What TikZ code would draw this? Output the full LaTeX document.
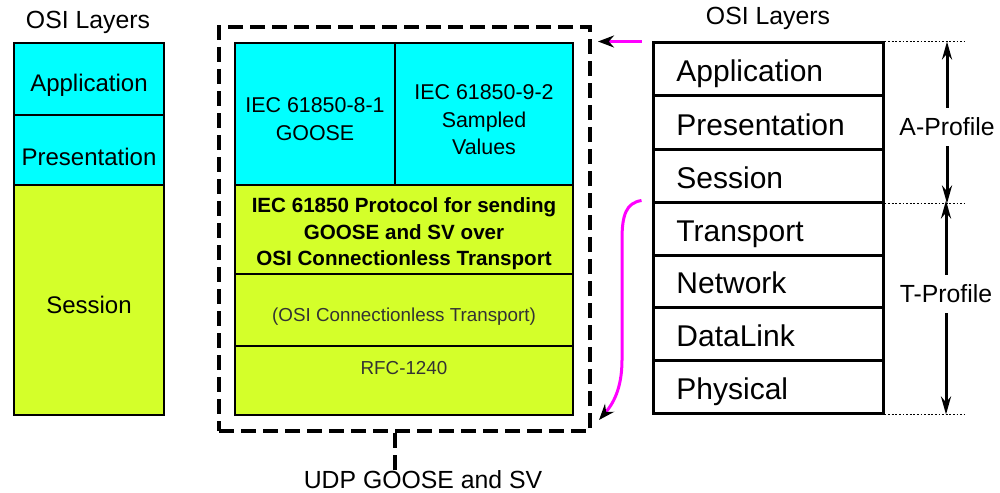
\documentclass[tikz,border=0pt]{standalone}
\usepackage{fontspec}
\setmainfont{Liberation Sans}
\usetikzlibrary{fit,arrows.meta,calc}
\definecolor{cy}{RGB}{0,255,255}
\definecolor{yg}{RGB}{212,255,42}
\definecolor{mag}{RGB}{255,0,255}
\begin{document}
\begin{tikzpicture}[x=0.5pt,y=-0.5pt,
  lcell/.style={inner sep=0pt, outer sep=0pt, draw, line width=1pt, minimum width=75pt},
  lfont/.style={inner sep=0pt, font=\fontsize{12}{14}\selectfont},
  ccell/.style={inner sep=0pt, outer sep=0pt, draw, line width=1pt},
  cfont/.style={inner sep=0pt, align=center, font=\fontsize{10.7}{13.75}\selectfont},
  pfont/.style={inner sep=0pt, align=center, font=\bfseries\fontsize{10.3}{13.25}\selectfont},
  sfont/.style={inner sep=0pt, text=black!80, font=\fontsize{9.4}{11}\selectfont},
  rcell/.style={inner sep=0pt, draw, line width=1.5pt},
  rtext/.style={anchor=base west, inner sep=0pt, font=\fontsize{15}{18}\selectfont},
  ttl/.style={inner sep=0pt, font=\fontsize{12.4}{15}\selectfont},
  prof/.style={inner sep=0pt, minimum height=19pt, font=\fontsize{12.4}{15}\selectfont},
  parrow/.style={line width=1.5pt, -{Stealth[length=9pt,width=5pt]}},
  dotln/.style={line width=0.9pt, dash pattern=on 0.9pt off 0.9pt},
  marrow/.style={mag, line width=1.5pt, -{Stealth[length=8pt,width=6pt,color=black]}},
  dbox/.style={inner sep=0pt, draw, line width=2pt, dash pattern=on 7.5pt off 3.5pt}
]
\useasboundingbox (0,0) rectangle (1000,492);

% left stack
\node[ttl] (ltitle) at (88,22) {OSI Layers};
\node[lcell, fill=cy, minimum height=36pt, label={[lfont, yshift=-3pt]center:Application}] (la) at (89,79) {};
\node[lcell, fill=cy, minimum height=35pt, label={[lfont, yshift=-3.5pt]center:Presentation}] (lp) at (89,150) {};
\node[lcell, fill=yg, minimum height=115pt, label={[lfont, yshift=-2.5pt]center:Session}] (ls) at (89,300) {};

% dashed UDP box
\node[dbox, fit={(219,27) (590,431)}] (db) {};

% inner stack
\node[ccell, fill=cy, minimum width=80pt, minimum height=71pt,
  label={[cfont, yshift=-2.5pt]center:IEC 61850-8-1\\GOOSE}] (g) at (315,114) {};
\node[ccell, fill=cy, minimum width=89pt, minimum height=71pt,
  label={[cfont, yshift=-3pt]center:IEC 61850-9-2\\Sampled\\Values}] (sv) at (484,114) {};
\node[ccell, fill=yg, minimum width=169pt, minimum height=44.5pt,
  label={[pfont, yshift=-2.25pt]center:IEC 61850 Protocol for sending\\GOOSE and SV over\\OSI Connectionless Transport}] (pr) at (404,229.5) {};
\node[ccell, fill=yg, line width=0.6pt, minimum width=169pt, minimum height=36pt,
  label={[sfont, yshift=-3.5pt]center:(OSI Connectionless Transport)}] (oc) at (404,310) {};
\node[ccell, fill=yg, minimum width=169pt, minimum height=34.5pt,
  label={[sfont, yshift=6.25pt]center:RFC-1240}] (rfc) at (404,380.5) {};

% UDP label and stub
\node[ttl] (udp) at (423,480) {UDP GOOSE and SV};
\draw[line width=2pt, dash pattern=on 7.5pt off 3.5pt] (db.south -| g.east) -- ($(udp.north -| g.east)+(0,5)$);

% right stack
\node[ttl] (rtitle) at (768,18) {OSI Layers};
\node[rcell, fit={(653,43) (883,96)}] (ra) {};
\node[rcell, fit={(653,96) (883,149)}] (rp) {};
\node[rcell, fit={(653,149) (883,202)}] (rs) {};
\node[rcell, fit={(653,202) (883,255)}] (rt) {};
\node[rcell, fit={(653,255) (883,307)}] (rn) {};
\node[rcell, fit={(653,307) (883,360)}] (rd) {};
\node[rcell, fit={(653,360) (883,413)}] (rph) {};
\node[rtext] (tra) at (676,82) {Application};
\node[rtext] (trp) at (676,135) {Presentation};
\node[rtext] (trs) at (676,188) {Session};
\node[rtext] (trt) at (676,241) {Transport};
\node[rtext] (trn) at (676,293) {Network};
\node[rtext] (trd) at (676,346) {DataLink};
\node[rtext] (trph) at (676,399) {Physical};

% profile markers
\draw[dotln] (ra.north east) -- ++(80,0);
\draw[dotln] (rs.south east) -- ++(80,0);
\draw[dotln] (rph.south east) -- ++(80,0);
\node[prof] (apl) at (947,127) {A-Profile};
\node[prof] (tpl) at (946,294) {T-Profile};
\draw[parrow] (apl.north) -- (apl.north |- ra.north);
\draw[parrow] (apl.south) -- (apl.south |- rs.south);
\draw[parrow] (tpl.north) -- (tpl.north |- rt.north);
\draw[parrow] (tpl.south) -- (tpl.south |- rph.south);

% magenta arrows
\draw[marrow, shorten <=5pt] (ra.north west) -- ($(db.north east |- ra.north west)+(6,0)$);
\coordinate (mend) at ($(db.south east)+(7,-13)$);
\draw[marrow] ($(rt.north west)+(-10,0)$) .. controls (626,203) and (622,215) .. (622,240)
   -- (622,360) .. controls (622,390) and (612,405) .. (mend);
\end{tikzpicture}
\end{document}
